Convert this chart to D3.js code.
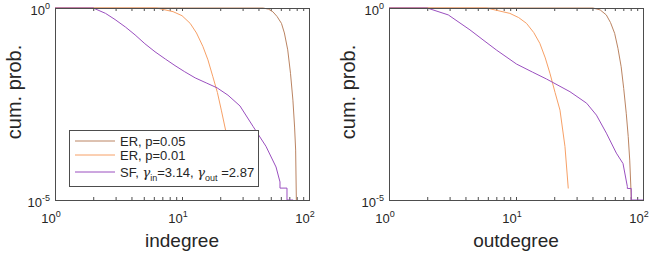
<!DOCTYPE html>
<html>
<meta charset="utf-8">
<title>degree distributions</title>
<style>
  body { margin: 0; background: #fff; }
  svg text { font-family: "Liberation Sans", Arial, sans-serif; fill: #262626; }
  .box { fill: none; stroke: #4d4d4d; stroke-width: 1; }
  .tick line { stroke: #4d4d4d; }
</style>
<body>
<script src="https://d3js.org/d3.v7.min.js"></script>
<script>
// degree values and log10 of cumulative probability
var inER05Deg = [1, 43.5, 48, 52, 56, 60.7, 64, 68, 71.5, 74.7, 77, 78.5, 79.5];
var inER05LogP = [0, 0, -0.03, -0.1, -0.22, -0.4, -0.65, -1.09, -1.7, -2.4, -3.1, -3.7, -5];
var inER01Deg = [1, 6.3, 8.5, 10, 11.6, 13, 14.6, 16, 17.5, 19, 20.4, 22.3, 24, 25.7];
var inER01LogP = [0, 0, -0.095, -0.2, -0.4, -0.65, -1.0, -1.35, -1.79, -2.2, -2.66, -3.26, -3.9, -4.6];
var inSFDeg = [1, 2, 2.5, 2.97, 3.6, 4.27, 5.1, 6.13, 7.4, 8.81, 10.5, 12.7, 15.5, 18.9, 23, 28.6, 36.2, 45.8, 55, 59.1, 59.1, 67.1, 67.1, 75];
var inSFLogP = [0, 0, -0.14, -0.3, -0.5, -0.7, -0.93, -1.14, -1.33, -1.5, -1.66, -1.82, -1.95, -2.08, -2.27, -2.55, -3.08, -3.6, -4.14, -4.53, -4.69, -4.69, -5, -5];

var outER05Deg = [1, 40.4, 46, 51.4, 55.5, 59.8, 63.5, 67.3, 70.5, 73.8, 76.5, 78.6, 81];
var outER05LogP = [0, 0, -0.05, -0.18, -0.38, -0.66, -1.05, -1.53, -2.1, -2.74, -3.35, -3.96, -5];
var outER01Deg = [1, 5.86, 8.95, 10.5, 12.1, 13.8, 15.4, 17, 18.5, 20.3, 22.2, 24.3, 25.8];
var outER01LogP = [0, 0, -0.14, -0.25, -0.4, -0.64, -0.92, -1.3, -1.7, -2.2, -2.66, -3.61, -4.7];
var outSFDeg = [1, 2, 2.93, 4.34, 5.6, 7.05, 10.1, 13.5, 17.4, 26.6, 36, 43, 51.5, 61.7, 69.6, 75.3, 75.3, 80.8, 80.8, 100];
var outSFLogP = [0, 0, -0.18, -0.57, -0.85, -1.1, -1.46, -1.67, -1.85, -2.18, -2.48, -2.79, -3.26, -3.78, -4.05, -4.65, -4.7, -4.7, -5, -5];

var seriesNames = ["ER, p=0.05", "ER, p=0.01", "SF"];
var seriesColors = ["#bb8462", "#f7a066", "#9a4fbf"];
var xTickExp = [0, 1, 2];
var yTickExp = [0, -5];

var width = 654, height = 253;
var svg = d3.select("body").append("svg").attr("width", width).attr("height", height);

function zipSeries(deg, logp) {
  return deg.map(function(d, i) { return [d, Math.pow(10, logp[i])]; });
}

var panels = [
  { left: 55, label: "indegree", legend: true,
    data: [zipSeries(inER05Deg, inER05LogP), zipSeries(inER01Deg, inER01LogP), zipSeries(inSFDeg, inSFLogP)] },
  { left: 389, label: "outdegree", legend: false,
    data: [zipSeries(outER05Deg, outER05LogP), zipSeries(outER01Deg, outER01LogP), zipSeries(outSFDeg, outSFLogP)] }
];

var plotTop = 8, plotW = 254, plotH = 192;

function powLabel(sel, exp) {
  sel.append("tspan").text("10");
  sel.append("tspan").attr("dy", -6).attr("font-size", 9).text(exp);
}

panels.forEach(function(p) {
  var g = svg.append("g").attr("transform", "translate(" + p.left + "," + plotTop + ")");
  var x = d3.scaleLog().domain([1, 100]).range([0, plotW]);
  var y = d3.scaleLog().domain([1e-5, 1]).range([plotH, 0]);

  var clipId = "clip" + p.left;
  g.append("clipPath").attr("id", clipId).append("rect")
    .attr("x", 0).attr("y", -1).attr("width", plotW).attr("height", plotH + 1);

  // x minor + major ticks, bottom and top, pointing inward
  var xt = x.ticks();
  g.append("g").attr("transform", "translate(0," + plotH + ")")
    .call(d3.axisBottom(x).tickValues(xt).tickSize(-3).tickFormat(""))
    .call(function(a) { a.select(".domain").remove(); });
  g.append("g")
    .call(d3.axisTop(x).tickValues(xt).tickSize(-3).tickFormat(""))
    .call(function(a) { a.select(".domain").remove(); });

  var line = d3.line().x(function(d) { return x(d[0]); }).y(function(d) { return y(d[1]); });

  var lines = g.append("g").attr("clip-path", "url(#" + clipId + ")");
  p.data.forEach(function(s, i) {
    lines.append("path").datum(s)
      .attr("d", line)
      .attr("fill", "none")
      .attr("stroke", seriesColors[i])
      .attr("stroke-width", 1);
  });

  g.append("rect").attr("class", "box")
    .attr("x", 0.5).attr("y", 0.5).attr("width", plotW).attr("height", plotH);

  // tick labels
  xTickExp.forEach(function(e) {
    var t = g.append("text").attr("x", x(Math.pow(10, e)) - 4).attr("y", plotH + 23)
      .attr("font-size", 13).attr("text-anchor", "middle");
    powLabel(t, e);
  });
  yTickExp.forEach(function(e) {
    var t = g.append("text").attr("x", -5).attr("y", y(Math.pow(10, e)) + 7)
      .attr("font-size", 13).attr("text-anchor", "end");
    powLabel(t, e);
  });

  g.append("text").attr("x", plotW / 2).attr("y", 239)
    .attr("font-size", 19).attr("text-anchor", "middle").text(p.label);
  g.append("text")
    .attr("transform", "translate(-34," + (plotH / 2 - 12) + ") rotate(-90)")
    .attr("font-size", 20).attr("text-anchor", "middle").text("cum. prob.");

  if (p.legend) {
    var lg = g.append("g").attr("transform", "translate(14,122)");
    lg.append("rect").attr("x", 0.5).attr("y", 0.5).attr("width", 189).attr("height", 56)
      .attr("fill", "#fff").attr("stroke", "#4d4d4d");
    var rowY = [11, 25, 42];
    seriesNames.forEach(function(n, i) {
      lg.append("line").attr("x1", 6).attr("x2", 46).attr("y1", rowY[i]).attr("y2", rowY[i])
        .attr("stroke", seriesColors[i]).attr("stroke-width", 1);
      var t = lg.append("text").attr("x", 51).attr("y", rowY[i] + 5).attr("font-size", 13);
      if (i < 2) {
        t.text(n);
      } else {
        t.append("tspan").text("SF, ");
        t.append("tspan").attr("font-family", "DejaVu Serif").attr("font-style", "italic").text("\u03B3");
        t.append("tspan").attr("dy", 4).attr("font-size", 9).text("in");
        t.append("tspan").attr("dy", -4).text("=3.14, ");
        t.append("tspan").attr("font-family", "DejaVu Serif").attr("font-style", "italic").text("\u03B3");
        t.append("tspan").attr("dy", 4).attr("font-size", 9).text("out");
        t.append("tspan").attr("dy", -4).text(" =2.87");
      }
    });
  }
});
</script>
</body>
</html>
